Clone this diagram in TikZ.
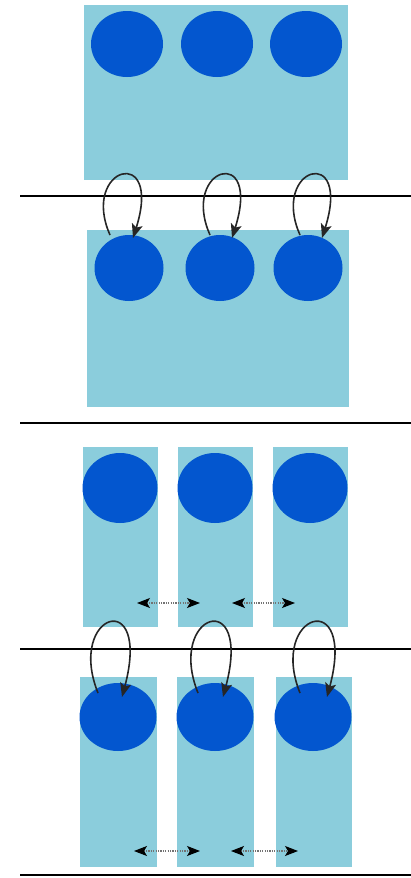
\documentclass[tikz,border=0pt]{standalone}
\usetikzlibrary{shapes.geometric,arrows.meta,calc}
\definecolor{cellbg}{HTML}{8BCDDC}
\definecolor{disc}{HTML}{0356CF}
\tikzset{
  cell/.style={fill=cellbg},
  atom/.style={ellipse,fill=disc,inner sep=0pt,draw=none},
  divider/.style={line width=2pt,black},
  hop/.style={line width=1.6pt,black!85,-{Stealth[length=14pt,width=11pt,inset=3pt]}},
  swap/.style={line width=1.1pt,black!55,dash pattern=on 1.2pt off 1.2pt,
    {Stealth[length=13pt,width=10pt,inset=3pt,black]}-{Stealth[length=13pt,width=10pt,inset=3pt,black]}}
}
\begin{document}
\begin{tikzpicture}[x=1pt,y=-1pt]
\useasboundingbox (0,0) rectangle (411,878);

% ---- block 1: single slab ----
\fill[cell] (84,5) rectangle (348,180);
\node[atom,minimum width=72pt,minimum height=66pt] (a1) at (127,44) {};
\node[atom,minimum width=72pt,minimum height=66pt] (a2) at (217,44) {};
\node[atom,minimum width=72pt,minimum height=66pt] (a3) at (306,44) {};

\draw[divider] (20,196) -- (411,196);

% ---- block 2: single slab, atoms hopping ----
\fill[cell] (87,230) rectangle (349,407);
\node[atom,minimum width=69pt,minimum height=66pt] (b1) at (129,268) {};
\node[atom,minimum width=69pt,minimum height=66pt] (b2) at (220,268) {};
\node[atom,minimum width=69pt,minimum height=66pt] (b3) at (308,268) {};
\draw[hop] ($(b1)+(-19,-33)$) .. controls +(-30,-68) and +(30,-95) .. ($(b1)+(4,-30)$);
\draw[hop] ($(b2)+(-10,-33)$) .. controls +(-30,-68) and +(30,-95) .. ($(b2)+(12,-30)$);
\draw[hop] ($(b3)+(-8,-33)$) .. controls +(-30,-68) and +(30,-95) .. ($(b3)+(14,-30)$);

\draw[divider] (20,423) -- (411,423);

% ---- block 3: split columns ----
\fill[cell] (83,447) rectangle (158,627);
\fill[cell] (178,447) rectangle (253,627);
\fill[cell] (273,447) rectangle (348,627);
\node[atom,minimum width=75pt,minimum height=70pt] (c1) at (120,488) {};
\node[atom,minimum width=75pt,minimum height=70pt] (c2) at (215,488) {};
\node[atom,minimum width=75pt,minimum height=70pt] (c3) at (310,488) {};
\coordinate (p1) at (137,603);
\coordinate (p2) at (200,603);
\coordinate (p3) at (232,603);
\coordinate (p4) at (295,603);
\draw[swap] (p1) -- (p2);
\draw[swap] (p3) -- (p4);

\draw[divider] (20,649) -- (411,649);

% ---- block 4: split columns, atoms hopping ----
\fill[cell] (80,677) rectangle (157,867);
\fill[cell] (177,677) rectangle (254,867);
\fill[cell] (276,677) rectangle (352,867);
\node[atom,minimum width=77pt,minimum height=68pt] (d1) at (118,717) {};
\node[atom,minimum width=77pt,minimum height=68pt] (d2) at (215,717) {};
\node[atom,minimum width=77pt,minimum height=68pt] (d3) at (313,717) {};
\draw[hop] ($(d1)+(-20,-24)$) .. controls +(-32,-80) and +(30,-112) .. ($(d1)+(4,-20)$);
\draw[hop] ($(d2)+(-17,-24)$) .. controls +(-32,-80) and +(30,-112) .. ($(d2)+(8,-20)$);
\draw[hop] ($(d3)+(-13,-24)$) .. controls +(-32,-80) and +(30,-112) .. ($(d3)+(14,-20)$);
\coordinate (q1) at (134,851);
\coordinate (q2) at (200,851);
\coordinate (q3) at (231,851);
\coordinate (q4) at (298,851);
\draw[swap] (q1) -- (q2);
\draw[swap] (q3) -- (q4);

\draw[divider] (20,875) -- (411,875);
\end{tikzpicture}
\end{document}
